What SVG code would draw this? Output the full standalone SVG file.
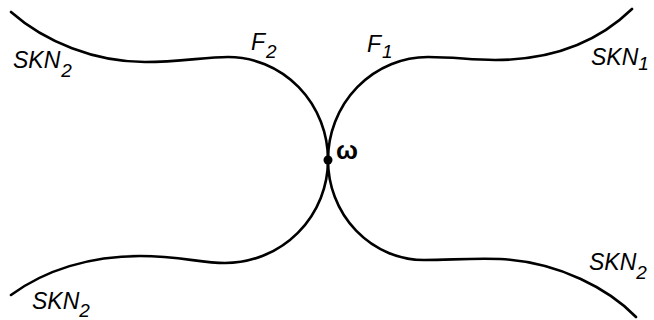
<svg xmlns="http://www.w3.org/2000/svg" width="654" height="320" viewBox="0 0 654 320">
<style>
.c{fill:none;stroke:#000;stroke-width:2.6;stroke-linecap:round}
.t{font-family:"Liberation Sans",Arial,sans-serif;font-style:italic;font-size:23px;fill:#000}
.s{font-size:19px}
.w{font-family:"Liberation Sans",Arial,sans-serif;font-size:26px;font-weight:bold;fill:#000}
</style>
<rect width="654" height="320" fill="#fff"/>
<g id="connectors">
<path class="c" d="M11,12 C45,42 95,62 145,62 C180,62 205,57 228,57 A100,103 0 0 1 328,160"/>
<path class="c" d="M328,160 A100,103 0 0 1 428,57 C455,57 470,60 495,60 C555,60 600,40 632,9"/>
<path class="c" d="M11,295 C45,270 90,256 140,256 C180,256 200,263 225,263 A103,103 0 0 0 328,160"/>
<path class="c" d="M328,160 A96,100 0 0 0 424,260 C450,260 470,258 500,259 C560,262 610,290 636,317"/>
</g>
<g id="omega">
<circle cx="328" cy="160" r="4.5" fill="#000"/>
<text class="w" x="336" y="159">ω</text>
</g>
<g id="skn2-tl"><text class="t" x="13" y="68">SKN<tspan class="s" dx="1" dy="9">2</tspan></text></g>
<g id="f2"><text class="t" x="251" y="50">F<tspan class="s" dx="1" dy="8">2</tspan></text></g>
<g id="f1"><text class="t" x="367" y="52">F<tspan class="s" dx="1" dy="6">1</tspan></text></g>
<g id="skn1-tr"><text class="t" x="591" y="65">SKN<tspan class="s" dy="5">1</tspan></text></g>
<g id="skn2-bl"><text class="t" x="32" y="309">SKN<tspan class="s" dy="8">2</tspan></text></g>
<g id="skn2-br"><text class="t" x="589" y="270">SKN<tspan class="s" dy="9">2</tspan></text></g>
</svg>
